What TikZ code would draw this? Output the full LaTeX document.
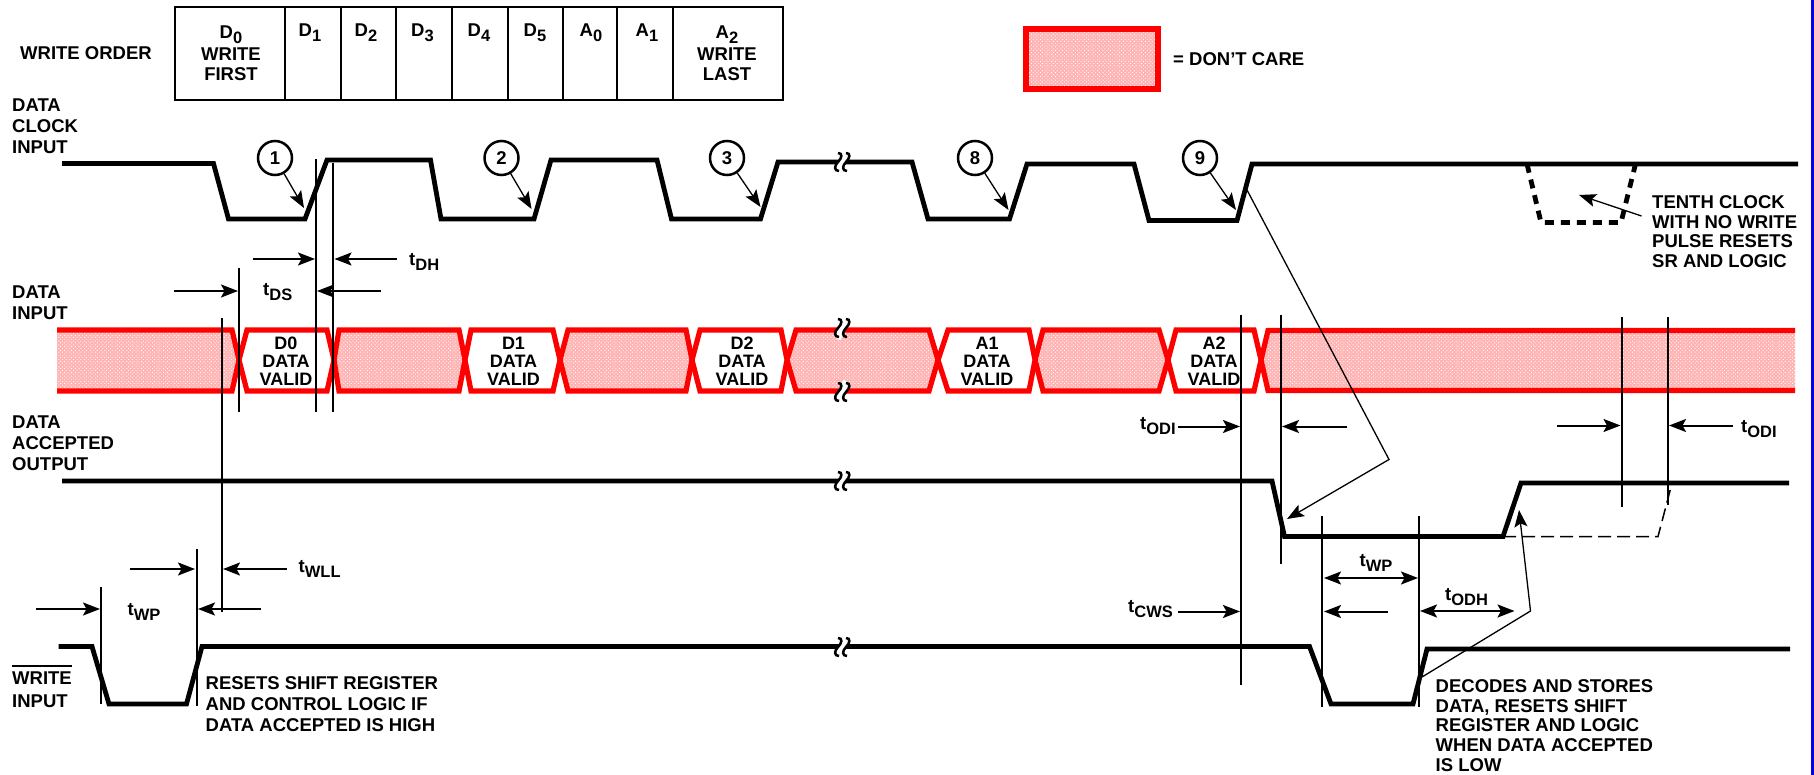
\documentclass[tikz,border=0pt]{standalone}
\usepackage{fontspec}
\setmainfont{Liberation Sans}
\usetikzlibrary{arrows.meta,patterns.meta}
\newcommand{\subtxt}[1]{\raisebox{-5pt}{\fontsize{16.5}{16.5}\selectfont #1}}
\newcommand{\tname}[1]{t\subtxt{#1}}
\tikzset{
	lab/.style={inner sep=0pt,align=left,anchor=west,font=\fontsize{18.5}{21}\selectfont\bfseries},
	note/.style={inner sep=0pt,align=left,anchor=west,font=\fontsize{18.5}{19.6}\selectfont\bfseries},
	cell/.style={inner sep=0pt,align=center,font=\fontsize{18.5}{20.5}\selectfont\bfseries},
	valid/.style={inner sep=0pt,align=center,font=\fontsize{18}{18}\selectfont\bfseries},
	num/.style={circle,draw,line width=2.5pt,fill=white,minimum size=34pt,inner sep=0pt,font=\fontsize{18.5}{21}\selectfont\bfseries},
	wave/.style={line width=4.8pt},
	band/.style={line width=5.2pt,draw=red,preaction={fill=red!30},pattern={Dots[distance=2.6pt,radius=.65pt,angle=45]},pattern color=white},
	vbox/.style={line width=5.2pt,draw=red,fill=white},
	edge/.style={line width=2pt},
	dim/.style={line width=2pt,->},
	call/.style={line width=1.3pt,->}
}
\begin{document}
\begin{tikzpicture}[x=1pt,y=-1pt,>={Stealth[length=17pt,width=13pt,inset=3.5pt]}]
\useasboundingbox (0,0) rectangle (1814,775);
\fill[white] (0,0) rectangle (1814,775);
\fill[blue!90!black] (1811,0) rectangle (1814,775);

\draw[line width=2.8pt] (175,7) rectangle (783,100);
\foreach \x in {285,341,396,452,508,563,617,673}
	\draw[line width=2.5pt] (\x,7) -- (\x,100);
\node[lab] (wrorder) at (20,53) {WRITE ORDER};
\node[cell] (d0) at (231,53.5) {D\subtxt{0}\\[1pt]WRITE\\FIRST};
\foreach \x/\c/\n in {310/D/1,366/D/2,422.5/D/3,479/D/4,535/D/5,591/A/0,647/A/1}
	\node[cell] (cell\c\n) at (\x,33) {\c\subtxt{\n}};
\node[cell] (a2) at (727,53.5) {A\subtxt{2}\\[1pt]WRITE\\LAST};

\draw[band,line width=6pt] (1025.5,29) rectangle (1158,89);
\node[lab] (dontcare) at (1173,59.5) {= DON’T CARE};

\node[lab] (lclock) at (12,126) {DATA\\CLOCK\\INPUT};
\node[lab] (linput) at (12,302.5) {DATA\\INPUT};
\node[lab] (laccept) at (12,443) {DATA\\ACCEPTED\\OUTPUT};
\node[lab] (lwrite) at (12,678) {WRITE};
\node[lab] (linput2) at (12,701) {INPUT};
\draw[line width=1.5pt] (12,666) -- (72,666);

\draw[band] (57,391) -- (232,391) -- (239,360) -- (232,330) -- (57,330);
\draw[band] (1795,330.5) -- (1268,330.5) -- (1261,360) -- (1268,390.5) -- (1795,390.5);
\foreach \a/\b/\c/\d in {334/339/459/465,560/568/686/692,787/796/929/938,1035/1043/1159/1168}
	\draw[band] (\a,360) -- (\b,330) -- (\c,330) -- (\d,360) -- (\c,391) -- (\b,391) -- cycle;
\foreach \a/\b/\c/\d/\t/\m in {239/247/327/334/D0/286,465/471/553/560/D1/513.5,692/700/781/787/D2/742,938/948/1029/1035/A1/987,1168/1176/1254/1261/A2/1214} {
	\draw[vbox] (\a,360) -- (\b,330) -- (\c,330) -- (\d,360) -- (\c,391) -- (\b,391) -- cycle;
	\node[valid] (v\t) at (\m,361) {\t\\DATA\\VALID};
}

\draw[wave] (62,163.5) -- (213.5,163.5) -- (228.5,219) -- (305,219) -- (327,160) -- (430.5,160) -- (441,219) -- (534,219) -- (551,160) -- (657,160) -- (671.5,219) -- (760.5,219) -- (778,162) -- (912,162) -- (928,219) -- (1009.5,219) -- (1027,164) -- (1134,164) -- (1149,220.5) -- (1237,220.5) -- (1252,164) -- (1798,164);
\draw[wave,dash pattern=on 9pt off 7pt] (1527,164) -- (1541,222.5) -- (1621,222.5) -- (1635.5,164);
\draw[wave] (62,481) -- (1272,481) -- (1284.5,536.5) -- (1503,536.5) -- (1521,483) -- (1789,483);
\draw[line width=1.5pt,dash pattern=on 13pt off 6pt] (1503,536.5) -- (1658,536.5) -- (1671.5,485);
\draw[wave] (58.5,646.5) -- (92,646.5) -- (109,704) -- (186.5,704) -- (202,646.5) -- (1309.5,646.5) -- (1331,704) -- (1413,704) -- (1427,649) -- (1790,649);

\foreach \n/\x/\tx/\ty in {1/275/304/208,2/501.5/531.5/209,3/727/760.5/207,8/975/1008.5/210,9/1200/1236/210} {
	\coordinate (tip\n) at (\tx,\ty);
	\node[num] (c\n) at (\x,158) {\n};
	\draw[call] (c\n) -- (tip\n);
}

\foreach \x/\ya/\yb in {315.5/159/412,333/163/412,238.5/268/412,222/318/612,101/587/704,197/549/706,1241/315/685,1281/315/564,1622/317/507,1668/317/505,1322/516/707,1419/516/707}
	\draw[edge] (\x,\ya) -- (\x,\yb);

\foreach \y in {162,328,392,481,647} {
	\draw[white,line width=7pt] (842,\y-9) .. controls (846,\y-9) and (846,\y-4) .. (842,\y) .. controls (838,\y+4) and (838,\y+9) .. (842,\y+9);
	\foreach \x in {838,846}
		\draw[line width=2.5pt] (\x,\y-9) .. controls (\x+5,\y-9) and (\x+4,\y-4) .. (\x,\y) .. controls (\x-4,\y+4) and (\x-4,\y+9) .. (\x+1,\y+9);
}

\draw[dim] (174,291) -- (238,291);
\draw[dim] (380.5,291) -- (317,291);
\draw[dim] (252.5,259) -- (315,259);
\draw[dim] (397,259) -- (334.5,259);
\draw[dim] (36,609) -- (100,609);
\draw[dim] (261,609) -- (198,609);
\draw[dim] (130,569) -- (195,569);
\draw[dim] (287,569) -- (223,569);
\draw[dim] (1178,426.5) -- (1240,426.5);
\draw[dim] (1347,426.5) -- (1282,426.5);
\draw[dim] (1557,425.5) -- (1620.5,425.5);
\draw[dim] (1733,425.5) -- (1669,425.5);
\draw[dim] (1178,611.5) -- (1240,611.5);
\draw[dim] (1388,611.5) -- (1324,611.5);
\draw[line width=2pt,<->] (1324,578) -- (1418,578);
\draw[line width=2pt,<->] (1420,611) -- (1514.5,611);

\node[lab] (tds) at (263,292) {\tname{DS}};
\node[lab] (tdh) at (409,262) {\tname{DH}};
\node[lab] (twp) at (127.5,612) {\tname{WP}};
\node[lab] (twll) at (298.5,569) {\tname{WLL}};
\node[lab] (todia) at (1140,426.5) {\tname{ODI}};
\node[lab] (todib) at (1741,429) {\tname{ODI}};
\node[lab] (twpb) at (1359.5,563) {\tname{WP}};
\node[lab] (todh) at (1445,597) {\tname{ODH}};
\node[lab] (tcws) at (1128,609) {\tname{CWS}};

\node[note] (ltenth) at (1652,231.5) {TENTH CLOCK\\WITH NO WRITE\\PULSE RESETS\\SR AND LOGIC};
\node[lab] (lresets) at (205.5,704.5) {RESETS SHIFT REGISTER\\AND CONTROL LOGIC IF\\DATA ACCEPTED IS HIGH};
\node[note] (ldecodes) at (1435.5,725.5) {DECODES AND STORES\\DATA, RESETS SHIFT\\REGISTER AND LOGIC\\WHEN DATA ACCEPTED\\IS LOW};

\draw[call] (1641.5,216) -- (1579,195);
\draw[call] (1247,190) -- (1389,459.5) -- (1287,519);
\draw[call] (1422,677) -- (1530.5,611) -- (1519,510);
\end{tikzpicture}
\end{document}
